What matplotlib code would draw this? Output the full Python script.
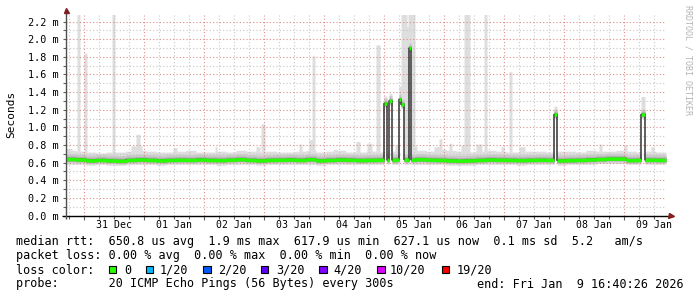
import numpy as np
import matplotlib
matplotlib.use("Agg")
import matplotlib.pyplot as plt
import matplotlib.dates as mdates
from matplotlib.patches import Rectangle
from datetime import datetime, timedelta

# ---------------- data ----------------
START = datetime(2025, 12, 30, 16, 40, 26)
END = datetime(2026, 1, 9, 16, 40, 26)

# median rtt (ms) per 4-hour block (60 blocks = 10 days)
median_4h = [0.640, 0.635, 0.625, 0.630, 0.625, 0.620, 0.630, 0.635, 0.630, 0.625,
             0.630, 0.632, 0.630, 0.635, 0.630, 0.628, 0.632, 0.638, 0.630, 0.625,
             0.630, 0.632, 0.635, 0.630, 0.638, 0.625, 0.630, 0.635, 0.632, 0.628,
             0.630, 0.632, 0.630, 0.635, 0.632, 0.638, 0.632, 0.630, 0.625, 0.622,
             0.625, 0.630, 0.635, 0.632, 0.630, 0.628, 0.630, 0.632, 0.630, 0.625,
             0.628, 0.630, 0.635, 0.640, 0.645, 0.645, 0.628, 0.630, 0.632, 0.630]
# max ping (ms) per 4-hour block
smoke_hi_4h = [0.74, 0.73, 0.72, 0.71, 0.72, 0.72, 0.73, 0.74, 0.73, 0.72,
               0.72, 0.73, 0.74, 0.72, 0.72, 0.73, 0.72, 0.74, 0.73, 0.72,
               0.73, 0.72, 0.72, 0.73, 0.74, 0.72, 0.73, 0.74, 0.72, 0.72,
               0.73, 0.72, 0.73, 0.74, 0.73, 0.74, 0.73, 0.75, 0.74, 0.73,
               0.72, 0.73, 0.74, 0.73, 0.72, 0.72, 0.73, 0.73, 0.72, 0.73,
               0.73, 0.72, 0.74, 0.73, 0.73, 0.74, 0.73, 0.72, 0.73, 0.72]
# min ping (ms) per 4-hour block
smoke_lo_4h = [0.58, 0.58, 0.57, 0.58, 0.57, 0.57, 0.58, 0.58, 0.58, 0.57,
               0.58, 0.58, 0.58, 0.58, 0.58, 0.57, 0.58, 0.58, 0.58, 0.57,
               0.58, 0.58, 0.58, 0.58, 0.58, 0.57, 0.58, 0.58, 0.58, 0.58,
               0.58, 0.58, 0.58, 0.58, 0.58, 0.58, 0.58, 0.58, 0.57, 0.57,
               0.57, 0.58, 0.58, 0.58, 0.58, 0.57, 0.58, 0.58, 0.58, 0.57,
               0.58, 0.58, 0.58, 0.59, 0.59, 0.59, 0.58, 0.58, 0.58, 0.58]

# isolated high pings: start hour, end hour (from START), max ping (ms)
spike_start_h = [0.3, 4.4, 7.3, 18.5, 26.3, 28.3, 43.0, 59.6, 76.3, 78.3, 93.6, 97.6,
                 98.5, 107.0, 116.3, 120.8, 124.3, 131.7, 135.3, 136.3, 136.9, 138.3,
                 139.6, 147.6, 149.6, 153.6, 158.3, 159.6, 164.3, 167.6, 174.3, 177.6,
                 181.6, 213.6, 223.6, 234.3]
spike_end_h = [2.3, 5.6, 8.3, 19.6, 30.4, 29.6, 44.3, 60.3, 77.6, 79.6, 94.3, 99.6,
               99.6, 108.3, 117.6, 122.3, 125.6, 133.2, 136.3, 136.9, 137.3, 139.6,
               140.3, 150.3, 150.3, 154.3, 159.6, 161.6, 166.3, 168.3, 174.9, 178.3,
               183.6, 214.3, 224.3, 235.2]
spike_max = [0.76, 2.30, 1.84, 2.30, 0.79, 0.92, 0.77, 0.78, 0.78, 1.04, 0.81, 0.86,
             1.81, 0.75, 0.84, 0.82, 1.935, 0.80, 2.30, 2.14, 2.30, 2.30,
             0.79, 0.78, 0.87, 0.82, 0.80, 2.30, 0.81, 2.30, 0.78, 1.63,
             0.78, 0.81, 0.80, 0.78]

# median excursions: start hour, end hour, median, min ping, max ping (ms)
event_start_h = [127.3, 129.3, 133.3, 134.3, 137.3, 195.3, 230.3]
event_end_h = [128.3, 130.3, 134.3, 135.1, 138.0, 196.1, 231.6]
event_median = [1.27, 1.30, 1.317, 1.26, 1.90, 1.146, 1.146]
event_lo = [1.22, 1.25, 1.27, 1.21, 1.85, 1.10, 1.10]
event_hi = [1.355, 1.385, 1.47, 2.30, 2.30, 1.24, 1.35]

# smoke shading offsets below / above median (ms)
band_lo_off = [0.035, 0.025, 0.018]
band_hi_off = [0.060, 0.035, 0.022]

y_ticks = [0.0, 0.2, 0.4, 0.6, 0.8, 1.0, 1.2, 1.4, 1.6, 1.8, 2.0, 2.2]
y_labels = ["%.1f m" % v for v in y_ticks]
day_labels = ["31 Dec", "01 Jan", "02 Jan", "03 Jan", "04 Jan",
              "05 Jan", "06 Jan", "07 Jan", "08 Jan", "09 Jan"]

loss_labels = ["0", "1/20", "2/20", "3/20", "4/20", "10/20", "19/20"]
loss_colors = ["#26ff00", "#00b8ff", "#0059ff", "#5e00ff", "#7e00ff", "#dd00ff", "#ff0000"]

legend_line1 = "median rtt:  650.8 us avg  1.9 ms max  617.9 us min  627.1 us now  0.1 ms sd  5.2   am/s"
legend_line2 = "packet loss: 0.00 % avg  0.00 % max  0.00 % min  0.00 % now"
legend_line3 = "loss color:"
legend_line4 = "probe:       20 ICMP Echo Pings (56 Bytes) every 300s"
legend_end = "end: Fri Jan  9 16:40:26 2026"

# ---------------- build pixel columns ----------------
N_COLS = 600
COL_H = 240.0 / N_COLS
col_start = np.arange(N_COLS) * COL_H
blk = (col_start // 4).astype(int)
med = np.array(median_4h)[blk]
hi = np.array(smoke_hi_4h)[blk]
lo = np.array(smoke_lo_4h)[blk]
for s, e, v in zip(spike_start_h, spike_end_h, spike_max):
    m = (col_start < e) & (col_start + COL_H > s)
    hi[m] = np.maximum(hi[m], v)
for s, e, mv, lv, hv in zip(event_start_h, event_end_h, event_median, event_lo, event_hi):
    m = (col_start < e) & (col_start + COL_H > s)
    med[m] = mv
    lo[m] = lv
    hi[m] = hv

edges = [START + timedelta(hours=float(h)) for h in np.append(col_start, 240.0)]
x = mdates.date2num(edges)


def ext(a):
    return np.append(a, a[-1])


# ---------------- figure ----------------
MONO = "DejaVu Sans Mono"
plt.rcParams["font.family"] = MONO
W, H = 697, 297
fig = plt.figure(figsize=(W / 100, H / 100), dpi=100, facecolor="white")
ax = fig.add_axes([66 / W, (H - 215.5) / H, 600 / W, 201 / H])
ax.set_facecolor("white")

# smoke
ax.fill_between(x, ext(lo), ext(hi), step="post", color="#dedede", lw=0, zorder=1)
shades = ["#c9c9c9", "#b0b0b0", "#8e8e8e"]
for lo_o, hi_o, c in zip(band_lo_off, band_hi_off, shades):
    bl = np.clip(med - lo_o, lo, med)
    bh = np.clip(med + hi_o, med, hi)
    ax.fill_between(x, ext(bl), ext(bh), step="post", color=c, lw=0, zorder=1.2)

# median line + loss colored band
ax.plot(x, ext(med), drawstyle="steps-post", color="#202020", lw=1.0, zorder=3)
sw = 0.02
ax.fill_between(x, ext(med - sw), ext(med + sw), step="post",
                color=loss_colors[0], lw=0, zorder=4)

ax.set_xlim(x[0], x[-1])
ax.set_ylim(0, 2.28)

# grid / ticks
midnights = [datetime(2025, 12, 31) + timedelta(days=i) for i in range(10)]
six_h = [datetime(2025, 12, 30, 18) + timedelta(hours=6 * i) for i in range(40)]
noons = [d + timedelta(hours=12) for d in midnights]
ax.set_xticks(mdates.date2num(midnights))
ax.set_xticks(mdates.date2num(six_h), minor=True)
ax.set_yticks(y_ticks, labels=y_labels)
ax.set_yticks(np.arange(0.1, 2.28, 0.2), minor=True)
ax.tick_params(axis="x", which="both", labelbottom=False, direction="out",
               color="#606060", width=0.8)
ax.tick_params(axis="x", which="major", length=3)
ax.tick_params(axis="x", which="minor", length=2)
ax.tick_params(axis="y", which="both", direction="out", length=2.5,
               color="#606060", width=0.8, labelsize=7.3, pad=2.6)
ax.grid(which="major", color="#de8c8c", lw=0.8, ls=(0, (1, 2)), zorder=2.5)
ax.grid(which="minor", color="#c6c6c6", lw=0.8, ls=(0, (1, 2)), zorder=2.5)
ax.set_axisbelow(False)
for sp in ax.spines.values():
    sp.set_visible(False)

sec = ax.secondary_xaxis("bottom")
sec.set_xticks(mdates.date2num(noons), labels=day_labels)
sec.tick_params(length=0, pad=3.6, labelsize=7.1)
sec.spines["bottom"].set_visible(False)

# axis lines with arrows
ax.plot([-4 / 600, 1.0035], [0, 0], transform=ax.transAxes, color="black",
        lw=1, clip_on=False, zorder=6, solid_capstyle="butt")
ax.plot([0, 0], [-3 / 201, 1.015], transform=ax.transAxes, color="#505050",
        lw=1, clip_on=False, zorder=6, solid_capstyle="butt")
ax.plot([1.0085], [0], transform=ax.transAxes, marker=">", ms=3.6, color="#7f1f1f",
        mec="#7f1f1f", clip_on=False, zorder=7)
ax.plot([0], [1.02], transform=ax.transAxes, marker="^", ms=3.6, color="#7f1f1f",
        mec="#7f1f1f", clip_on=False, zorder=7)

# texts
fig.text(11 / W, 1 - 114 / H, "Seconds", rotation=90, ha="center", va="center",
         fontsize=8)
fig.text(688 / W, 1 - 5 / H, "RRDTOOL / TOBI OETIKER", rotation=270, ha="center",
         va="top", fontsize=6, color="#b4b4b4")

LX = 16.5
FS = 8.5
fig.text(LX / W, 1 - 245.5 / H, legend_line1, fontsize=FS, va="baseline")
fig.text(LX / W, 1 - 259.5 / H, legend_line2, fontsize=FS, va="baseline")
fig.text(LX / W, 1 - 273.5 / H, legend_line3, fontsize=FS, va="baseline")
fig.text(LX / W, 1 - 287.5 / H, legend_line4, fontsize=FS, va="baseline")
fig.text(477 / W, 1 - 287.5 / H, legend_end, fontsize=FS, va="baseline")

box_x = [109, 145.7, 203.3, 261, 319.3, 377.3, 441.7]
lab_x = [124, 160, 218.3, 276, 333.3, 390, 456.7]
for bx, lx_, c, t in zip(box_x, lab_x, loss_colors, loss_labels):
    fig.add_artist(Rectangle((bx / W, 1 - 273.3 / H), 7.3 / W, 7.5 / H,
                             transform=fig.transFigure, facecolor=c,
                             edgecolor="black", lw=0.8))
    fig.text(lx_ / W, 1 - 273.5 / H, t, fontsize=FS, va="baseline")

fig.savefig("out.png", dpi=100, facecolor="white")
